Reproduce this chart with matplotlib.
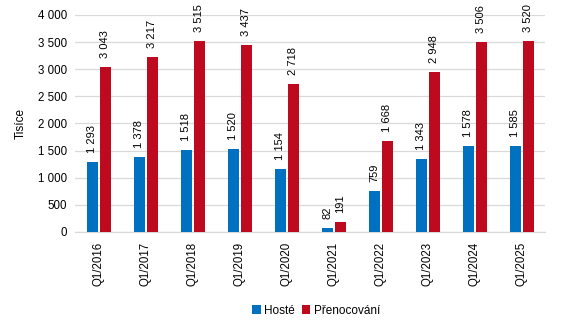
import numpy as np
import matplotlib
matplotlib.use("Agg")
import matplotlib.pyplot as plt

plt.rcParams["font.family"] = ["Liberation Sans", "DejaVu Sans"]

# Data (tisíce)
kvartaly = ["Q1/2016", "Q1/2017", "Q1/2018", "Q1/2019", "Q1/2020",
            "Q1/2021", "Q1/2022", "Q1/2023", "Q1/2024", "Q1/2025"]
hoste = [1293, 1378, 1518, 1520, 1154, 82, 759, 1343, 1578, 1585]
prenocovani = [3043, 3217, 3515, 3437, 2718, 191, 1668, 2948, 3506, 3520]

BLUE = "#0070c0"
RED = "#be0a1e"
GRID = "#d9d9d9"


def fmt(v):
    return f"{v:,}".replace(",", " ")


fig = plt.figure(figsize=(5.65, 3.24), dpi=100)
ax = fig.add_axes([0.133, 0.284, 0.832, 0.670])

x = np.arange(len(kvartaly))
w = 0.235
off = 0.14
b1 = ax.bar(x - off, hoste, w, color=BLUE, label="Hosté", zorder=3)
b2 = ax.bar(x + off, prenocovani, w, color=RED, label="Přenocování", zorder=3)

for bars, vals in ((b1, hoste), (b2, prenocovani)):
    for rect, v in zip(bars, vals):
        ax.annotate(fmt(v), (rect.get_x() + rect.get_width() / 2, v),
                    xytext=(0, 6.5), textcoords="offset points",
                    rotation=90, ha="center", va="bottom",
                    fontsize=8, color="#000000")

ax.set_ylim(0, 4000)
ax.set_xlim(-0.5, len(kvartaly) - 0.5)
ax.set_yticks(range(0, 4001, 500))
ax.set_yticklabels([fmt(v) for v in range(0, 4001, 500)])
ax.set_xticks(x)
ax.set_xticklabels(kvartaly, rotation=90)
ax.tick_params(axis="both", length=0, labelsize=8.3, colors="#000000")
ax.tick_params(axis="y", pad=6)
ax.tick_params(axis="x", pad=7)

ax.yaxis.grid(True, color=GRID, lw=0.9, zorder=0)
for s in ("top", "right", "left"):
    ax.spines[s].set_visible(False)
ax.spines["bottom"].set_color(GRID)
ax.spines["bottom"].set_linewidth(0.9)

ax.set_ylabel("Tisíce", fontsize=8.5, labelpad=8)

fig.legend(loc="lower center", bbox_to_anchor=(0.56, -0.01), ncol=2,
           frameon=False, fontsize=8.5, handlelength=0.7, handleheight=0.7,
           handletextpad=0.3, columnspacing=0.6)

fig.savefig("out.png", dpi=100)
